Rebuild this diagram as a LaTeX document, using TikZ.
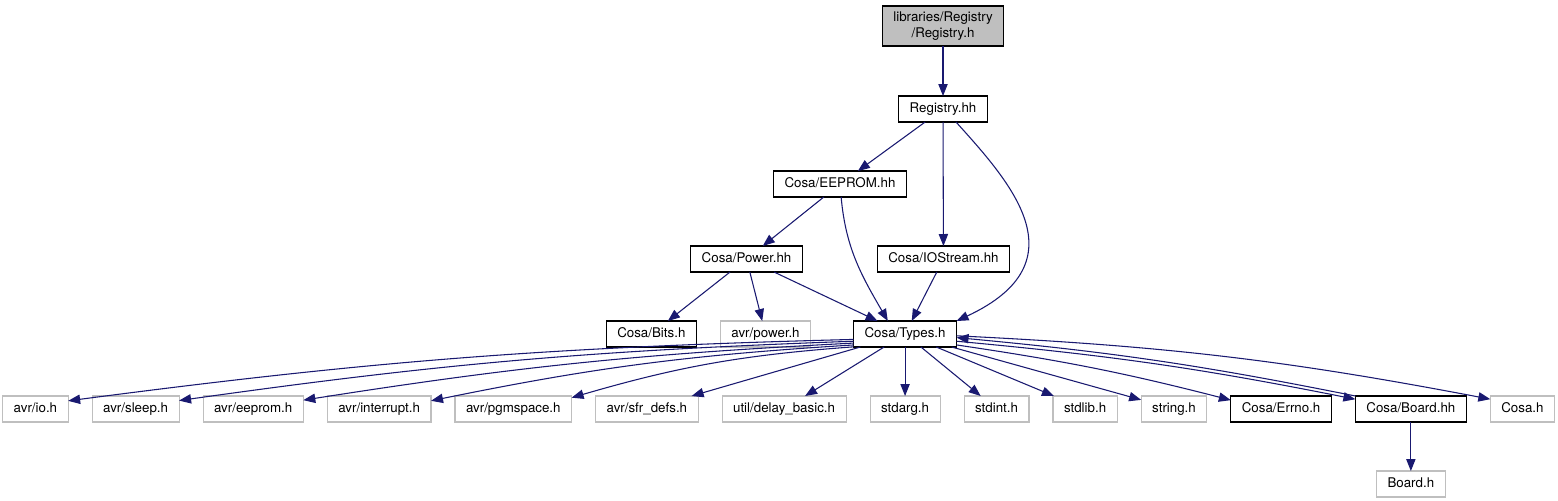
\documentclass[tikz,border=0pt]{standalone}
\usepackage{fontspec}
\setmainfont{TeX Gyre Heros}
\usepackage{xcolor}
\usepackage{tikz}
\usetikzlibrary{arrows.meta, positioning}

\definecolor{edgeblue}{HTML}{191970}
\definecolor{extgray}{HTML}{BFBFBF}

\begin{document}
\begin{tikzpicture}[
    node distance=36.75pt and 18pt,
    basebox/.style={rectangle, draw=black, line width=0.8pt, outer sep=0pt, inner xsep=8.25pt, inner ysep=0pt, minimum height=19.5pt, font=\normalsize},
    incfile/.style={basebox, text height=7.4pt, text depth=2.2pt},
    sysfile/.style={incfile, draw=extgray},
    rootfile/.style={basebox, fill=extgray, align=center, minimum height=30pt},
    arrow/.style={draw=edgeblue, line width=0.8pt, -{Triangle[length=9pt, width=7pt]}}
]
\useasboundingbox (0,0) rectangle (1168.5pt,-375pt);

% Root file
\node[rootfile] (regh) at (707.25pt,-19.5pt) {libraries/Registry\\/Registry.h};

% Library headers
\node[incfile, below=37.5pt of regh] (reghh) {Registry.hh};
\node[incfile, below=of reghh, xshift=-77.25pt] (eeprom) {Cosa/EEPROM.hh};
\node[incfile, below=of eeprom, xshift=-70.1pt] (power) {Cosa/Power.hh};
\node[incfile, right=56.25pt of power] (iostream) {Cosa/IOStream.hh};
\node[incfile, below=of power, xshift=118.9pt] (types) {Cosa/Types.h};
\node[sysfile, left=32.25pt of types] (avrpower) {avr/power.h};
\node[incfile, left=of avrpower] (bits) {Cosa/Bits.h};

% Included by Cosa/Types.h
\node[sysfile, below=of types] (stdarg) {stdarg.h};
\node[sysfile, left=of stdarg] (delay) {util/delay\_basic.h};
\node[sysfile, left=of delay] (sfrdefs) {avr/sfr\_defs.h};
\node[sysfile, left=of sfrdefs] (pgmspace) {avr/pgmspace.h};
\node[sysfile, left=of pgmspace] (interrupt) {avr/interrupt.h};
\node[sysfile, left=of interrupt] (aeeprom) {avr/eeprom.h};
\node[sysfile, left=of aeeprom] (sleep) {avr/sleep.h};
\node[sysfile, left=of sleep] (avrio) {avr/io.h};
\node[sysfile, right=of stdarg] (stdint) {stdint.h};
\node[sysfile, right=of stdint] (stdlib) {stdlib.h};
\node[sysfile, right=of stdlib] (string) {string.h};
\node[incfile, right=of string] (errno) {Cosa/Errno.h};
\node[incfile, right=of errno] (board) {Cosa/Board.hh};
\node[sysfile, right=of board] (cosa) {Cosa.h};
\node[sysfile, below=of board] (boardh) {Board.h};

% Arrows
\draw[arrow] (regh) -- (reghh);
\draw[arrow] (reghh) -- (eeprom);
\draw[arrow] (reghh) -- (iostream);
\draw[arrow] (reghh.-45) .. controls +(-48:60pt) and +(25:105pt) .. (types.north east);
\draw[arrow] (eeprom) -- (power);
\draw[arrow] (eeprom) to[out=-85, in=120] (types.143);
\draw[arrow] (power) -- (bits);
\draw[arrow] (power) -- (avrpower);
\draw[arrow] (power) -- (types);
\draw[arrow] (iostream) -- (types);

\draw[arrow] (types.186) to[bend right=3] (avrio.14);
\draw[arrow] (types.188) to[bend right=3] (sleep.11);
\draw[arrow] (types.190) to[bend right=3] (aeeprom.10);
\draw[arrow] (types.192) to[bend right=4] (interrupt.9);
\draw[arrow] (types.194) to[bend right=6] (pgmspace.11);
\draw[arrow] (types) -- (sfrdefs);
\draw[arrow] (types) -- (delay);
\draw[arrow] (types) -- (stdarg);
\draw[arrow] (types) -- (stdint);
\draw[arrow] (types) -- (stdlib);
\draw[arrow] (types) -- (string);
\draw[arrow] (types.-12) to[bend left=3] (errno.170);
\draw[arrow] (types.-8) to[bend left=3] (board.170);
\draw[arrow] (board.north west) to[bend right=3] (types.-4);
\draw[arrow] (types.-2) to[bend left=4] (cosa.163);
\draw[arrow] (board) -- (boardh);

\end{tikzpicture}
\end{document}
